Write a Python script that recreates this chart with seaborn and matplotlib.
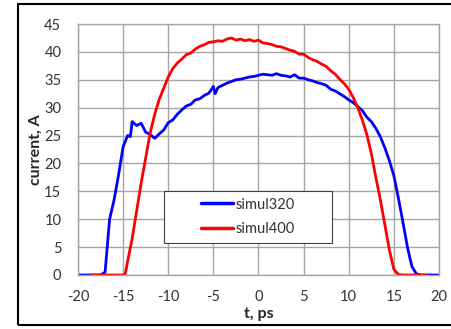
import numpy as np
import pandas as pd
import matplotlib
matplotlib.use("Agg")
import matplotlib.pyplot as plt
from matplotlib.patches import Rectangle
import seaborn as sns

# --- data ---
t320 = [-20, -19.5, -19, -18.5, -18, -17.5, -17, -16.5, -16, -15.5, -15, -14.5, -14.2, -14, -13.5, -13,
        -12.5, -12, -11.5, -11, -10.5, -10, -9.5, -9, -8.5, -8, -7.5, -7, -6.5, -6, -5.5, -5, -4.8,
        -4.5, -4, -3.5, -3, -2.5, -2, -1.5, -1, -0.5, 0, 0.5, 1, 1.5, 2, 2.5, 3, 3.5, 4, 4.5, 5, 5.5,
        6, 6.5, 7, 7.5, 8, 8.5, 9, 9.5, 10, 10.5, 11, 11.5, 12, 12.5, 13, 13.5, 14, 14.5, 15, 15.5,
        16, 16.5, 17, 17.5, 18, 18.5, 19, 19.5, 20]
i320 = [0, 0, 0, 0, 0, 0, 0.5, 10, 13.5, 18, 23, 25, 24.8, 27.5, 26.8, 27.2,
        25.6, 25.2, 24.5, 25.3, 26.0, 27.3, 27.8, 28.8, 29.6, 30.3, 30.6, 31.4, 31.6, 32.2, 32.6, 33.8, 32.5,
        33.6, 34.0, 34.4, 34.7, 35.0, 35.1, 35.3, 35.5, 35.6, 35.8, 36.0, 35.9, 35.8, 36.1, 35.8, 35.7, 35.5, 35.9, 35.3, 35.3, 35.0,
        34.8, 34.5, 34.3, 34.0, 33.3, 33.0, 32.5, 32.0, 31.4, 30.9, 30.2, 29.5, 28.3, 27.5, 26.3, 24.8, 22.8, 20.5, 17.8, 13.8,
        9.5, 5.0, 1.5, 0.2, 0, 0, 0, 0, 0]

t400 = [-18.5, -18, -17.5, -17, -16.5, -16, -15.5, -15, -14.75, -14.5, -14, -13.5, -13, -12.5, -12, -11.5,
        -11, -10.5, -10, -9.5, -9, -8.5, -8, -7.5, -7, -6.5, -6, -5.5, -5, -4.5, -4, -3.5, -3, -2.5,
        -2, -1.5, -1, -0.5, 0, 0.5, 1, 1.5, 2, 2.5, 3, 3.5, 4, 4.5, 5, 5.5, 6, 6.5, 7, 7.5, 8, 8.5,
        9, 9.5, 10, 10.5, 11, 11.5, 12, 12.5, 13, 13.5, 14, 14.5, 15, 15.5, 16, 16.5, 17, 17.5, 18, 18.5]
i400 = [0, 0, 0, 0, 0, 0, 0, 0, 0.3, 2.5, 6.5, 11.5, 16.5, 21, 25.5, 28.8,
        31.5, 33.5, 35.5, 37, 38, 38.7, 39.5, 39.8, 40.5, 41.0, 41.3, 41.7, 41.8, 42.0, 41.9, 42.3, 42.5, 42.1,
        42.3, 42.0, 42.2, 41.9, 42.1, 41.6, 41.5, 41.3, 41.0, 40.9, 40.6, 40.3, 40.1, 39.6, 39.6, 39.0, 38.6, 38.3, 37.8, 37.4, 36.6, 36.0,
        35.1, 34.3, 33.3, 31.8, 30.0, 27.8, 25.2, 21.8, 17.5, 13.5, 9.0, 4.5, 1.0, 0.1, 0, 0, 0, 0, 0, 0]

series_names = ["simul320", "simul400"]
x_ticks = [-20, -15, -10, -5, 0, 5, 10, 15, 20]
y_ticks = [0, 5, 10, 15, 20, 25, 30, 35, 40, 45]

df = pd.concat([
    pd.DataFrame({"t": t320, "current": i320, "series": series_names[0]}),
    pd.DataFrame({"t": t400, "current": i400, "series": series_names[1]}),
], ignore_index=True)

sns.set_style("whitegrid")
plt.rcParams["font.family"] = ["Lato", "DejaVu Sans"]

fig = plt.figure(figsize=(4.52, 3.29), dpi=100)
ax = fig.add_axes([78 / 452, 1 - 275 / 329, 361 / 452, 251 / 329])

sns.lineplot(data=df, x="t", y="current", hue="series", hue_order=series_names,
             palette={"simul320": "#0000ff", "simul400": "#ff0000"},
             linewidth=2.0, sort=False, estimator=None, ax=ax)

ax.set_xlim(-20, 20)
ax.set_ylim(0, 45)
ax.set_xticks(x_ticks)
ax.set_yticks(y_ticks)
ax.set_xticklabels([str(v) for v in x_ticks], fontsize=10.5, color="#333333")
ax.set_yticklabels([str(v) for v in y_ticks], fontsize=10.5, color="#333333")
ax.grid(True, color="#a6a6a6", linewidth=1.0)
ax.set_axisbelow(True)
for s in ax.spines.values():
    s.set_color("#a6a6a6")
    s.set_linewidth(1.0)
ax.tick_params(axis="both", length=3, color="#a6a6a6")
ax.tick_params(axis="x", pad=8)
ax.tick_params(axis="y", pad=9)
ax.set_xlabel("t, ps", fontsize=11.5, fontweight="bold", labelpad=2)
ax.set_ylabel("current, A", fontsize=11.5, fontweight="bold", labelpad=1)

# legend box (drawn separately) and centred legend contents
ax.add_patch(Rectangle((0.238, 0.127), 0.466, 0.208, transform=ax.transAxes,
                       facecolor="white", edgecolor="#404040", linewidth=0.8, zorder=5))
leg = ax.legend(loc="center", bbox_to_anchor=(0.471, 0.231),
                frameon=False, fontsize=10.5, handlelength=2.2, handletextpad=0.15,
                labelspacing=0.75, borderpad=0, borderaxespad=0)
leg.set_zorder(6)
for txt in leg.get_texts():
    txt.set_color("#333333")
for h in leg.get_lines():
    h.set_linewidth(2.5)

fig.patches.append(Rectangle((18 / 452, 4 / 329), 460 / 452, 321 / 329, transform=fig.transFigure,
                             fill=False, edgecolor="black", linewidth=1.5))

fig.savefig("out.png", dpi=100)
